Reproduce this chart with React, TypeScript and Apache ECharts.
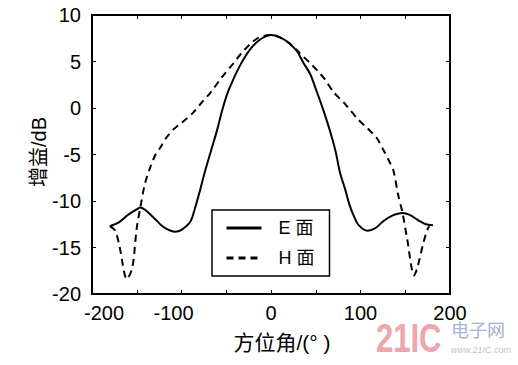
import React, { useEffect, useRef } from "react";
import * as echarts from "echarts";

const eAngles = [-180, -170, -160, -150, -146, -140, -130, -120, -107, -100, -90, -85, -80, -74, -67, -60, -55, -49, -42, -35, -27, -20, -10, 0, 10, 20, 29, 36, 44, 51, 58, 66, 72, 77, 83, 88, 92, 98, 108, 117, 125, 135, 147, 155, 165, 173, 181];
const eGain = [-12.7, -12.3, -11.5, -10.9, -10.7, -11.0, -11.9, -12.8, -13.3, -13.1, -12.2, -10.8, -9.1, -6.9, -4.6, -2.3, -0.4, 1.5, 3.1, 4.5, 5.8, 6.7, 7.5, 7.85, 7.6, 7.0, 6.1, 4.9, 3.6, 1.8, -0.1, -2.5, -4.6, -6.9, -8.8, -10.5, -11.5, -12.6, -13.2, -12.9, -12.2, -11.6, -11.3, -11.5, -12.1, -12.5, -12.6];

const hAngles = [-180, -174, -169, -161, -155, -150, -146, -141, -135, -129, -124, -117, -109, -100, -87, -76, -68, -55, -42, -33, -23, -15, -8, 0, 10, 20, 29, 32, 44, 52, 60, 70, 83, 97, 108, 118, 125, 133, 137, 142, 147, 152, 160, 164, 170, 175, 177];
const hGain = [-12.7, -13.2, -15.0, -18.4, -17.2, -12.9, -10.7, -8.2, -6.4, -5.0, -4.3, -3.2, -2.3, -1.6, -0.5, 0.75, 1.6, 3.3, 4.8, 5.9, 6.9, 7.5, 7.75, 7.85, 7.6, 7.0, 6.2, 5.9, 4.8, 4.0, 3.1, 1.7, 0.4, -1.2, -2.2, -3.2, -4.4, -5.9, -6.8, -9.3, -11.3, -14.0, -18.0, -17.0, -14.6, -13.0, -12.7];

const seriesNames = ["E 面", "H 面"];
const xTitle = "方位角/(° )";
const yTitle = "增益/dB";

const FONT = "'Liberation Sans', Arial, 'Noto Sans CJK SC', sans-serif";

export default function App() {
  const ref = useRef<HTMLDivElement>(null);
  useEffect(() => {
    if (!ref.current) return;
    const chart = echarts.init(ref.current, undefined, { renderer: "svg" });
    const eData = eAngles.map((a, i) => [a, eGain[i]]);
    const hData = hAngles.map((a, i) => [a, hGain[i]]);
    const tick = { show: true, inside: true, length: 4, lineStyle: { color: "#000", width: 1 } };
    const xBase = {
      type: "value" as const,
      min: -200,
      max: 200,
      interval: 50,
      axisLine: { show: false, onZero: false },
      splitLine: { show: false },
      axisTick: tick,
    };
    const yBase = {
      type: "value" as const,
      min: -20,
      max: 10,
      interval: 5,
      axisLine: { show: false, onZero: false },
      splitLine: { show: false },
      axisTick: tick,
    };
    chart.setOption({
      animation: false,
      backgroundColor: "#fff",
      grid: {
        left: 92,
        right: 68,
        top: 15,
        bottom: 71,
        show: true,
        borderColor: "#000",
        borderWidth: 2,
        backgroundColor: "transparent",
      },
      xAxis: [
        {
          ...xBase,
          position: "bottom",
          axisLabel: {
            show: true,
            margin: 9,
            color: "#000",
            fontSize: 20,
            fontFamily: FONT,
            formatter: (v: number) => {
              if (v === -200) return "{l|-200}";
              if (v === -100) return "{r|-100}";
              return v % 100 === 0 ? String(v) : "";
            },
            rich: {
              l: { padding: [0, 0, 0, 24], fontSize: 20, fontFamily: FONT, color: "#000" },
              r: { padding: [0, 16, 0, 0], fontSize: 20, fontFamily: FONT, color: "#000" },
            },
          },
        },
        { ...xBase, position: "top", axisLabel: { show: false } },
      ],
      yAxis: [
        {
          ...yBase,
          position: "left",
          axisLabel: { show: true, margin: 11, color: "#000", fontSize: 20, fontFamily: FONT },
        },
        { ...yBase, position: "right", axisLabel: { show: false } },
      ],
      legend: {
        show: true,
        orient: "vertical",
        left: 212,
        top: 210,
        padding: [9, 15, 9, 13],
        itemWidth: 35,
        itemHeight: 14,
        itemGap: 12,
        borderColor: "#000",
        borderWidth: 1.5,
        backgroundColor: "#fff",
        data: seriesNames,
        lineStyle: { width: 3 },
        itemStyle: { color: "transparent", borderColor: "transparent", borderWidth: 0, opacity: 0 },
        textStyle: { color: "#000", fontSize: 18, fontFamily: FONT, padding: [0, 0, 0, 12] },
      },
      series: [
        {
          name: seriesNames[0],
          type: "line",
          data: eData,
          symbol: "none",
          showSymbol: false,
          smooth: 0.3,
          lineStyle: { color: "#000", width: 2, type: "solid" },
          itemStyle: { color: "#000" },
        },
        {
          name: seriesNames[1],
          type: "line",
          data: hData,
          symbol: "none",
          showSymbol: false,
          smooth: 0.3,
          lineStyle: { color: "#000", width: 2, type: [7, 5] },
          itemStyle: { color: "#000" },
        },
      ],
      graphic: [
        {
          type: "text",
          x: 39,
          y: 152,
          rotation: Math.PI / 2,
          style: {
            text: yTitle,
            fill: "#000",
            fontSize: 20,
            fontFamily: FONT,
            align: "center",
            verticalAlign: "middle",
          },
        },
        {
          type: "text",
          x: 282,
          y: 342,
          style: {
            text: xTitle,
            fill: "#000",
            fontSize: 21,
            fontFamily: FONT,
            align: "center",
            verticalAlign: "middle",
          },
        },
        {
          type: "text",
          x: 376,
          y: 338,
          scaleY: 1.3,
          style: {
            text: "21IC",
            fill: "#f0a4ac",
            fontSize: 31,
            fontWeight: "bold",
            fontFamily: FONT,
            align: "left",
            verticalAlign: "middle",
          },
        },
        {
          type: "text",
          x: 451,
          y: 331,
          style: {
            text: "电子网",
            fill: "#a8b0d8",
            fontSize: 18,
            fontFamily: FONT,
            align: "left",
            verticalAlign: "middle",
          },
        },
        {
          type: "text",
          x: 451,
          y: 350,
          style: {
            text: "www.21IC.com",
            fill: "#c0c0c0",
            fontSize: 9,
            fontStyle: "italic",
            fontFamily: FONT,
            align: "left",
            verticalAlign: "middle",
          },
        },
      ],
    });
    return () => chart.dispose();
  }, []);
  return (
    <div
      ref={ref}
      style={{ width: 518, height: 365, position: "absolute", left: 0, top: 0 }}
    />
  );
}
